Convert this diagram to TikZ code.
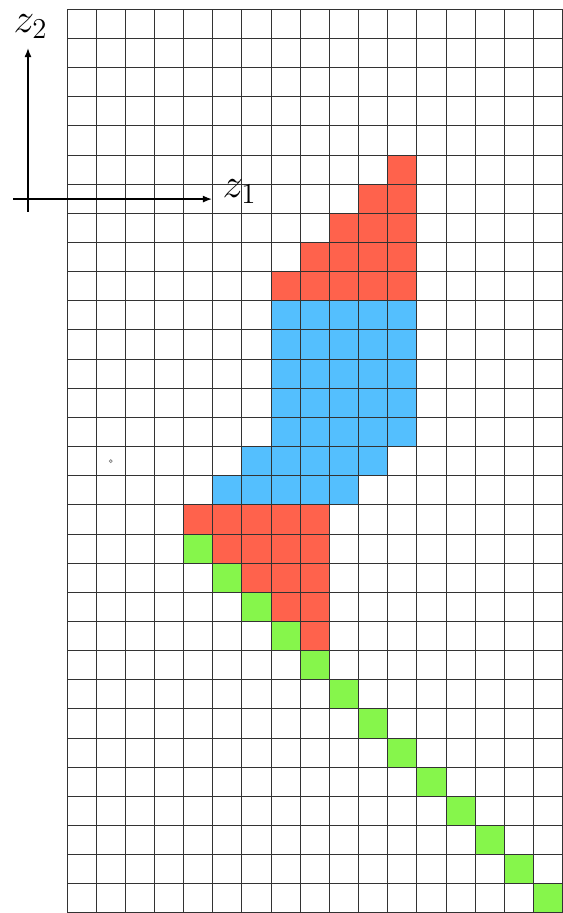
\documentclass[tikz,border=0pt]{standalone}
\usetikzlibrary{arrows.meta}
\definecolor{redcell}{RGB}{255,98,76}
\definecolor{bluecell}{RGB}{84,191,254}
\definecolor{greencell}{RGB}{134,246,75}
\begin{document}
\begin{tikzpicture}[x=14.575pt,y=14.575pt,
	gridline/.style={line width=0.5pt, black!80},
	axisline/.style={line width=0.65pt, -{Latex[length=4.5pt,width=3.5pt]}},
	axislabel/.style={anchor=base west, inner sep=0pt, font=\huge}]
	\useasboundingbox (-2.3,0) rectangle (17,31.32);
	
	% --- Red cells on top ---
	\foreach \r in {5,...,9} {
		\fill[redcell] ({16-\r},{30-\r}) rectangle (12,{31-\r}); % staircase row
	}
	
	% --- Blue block ---
	\fill[bluecell] (7,16) rectangle (12,21);
	\fill[bluecell] (6,15) rectangle (11,16);
	\fill[bluecell] (5,14) rectangle (10,15);
	
	% --- Red cells below ---
	\fill[redcell] (4,13) rectangle (9,14);
	\foreach \r in {18,...,21} {
		\fill[redcell] ({\r-13},{30-\r}) rectangle (9,{31-\r});
	}
	
	% --- Green diagonal ---
	\foreach \r in {18,...,30} {
		\fill[greencell] ({\r-14},{30-\r}) rectangle ++(1,1);
	}
	
	% --- Grid ---
	\foreach \x in {0,...,17} {
		\draw[gridline] (\x,0) -- (\x,31);
	}
	\foreach \y in {0,...,31} {
		\draw[gridline] (0,\y) -- (17,\y);
	}
	\draw[gray, line width=0.35pt] (1.5,15.5) circle (0.05);
	
	% --- Axes ---
	\coordinate (xs) at (-1.85,24.49);
	\coordinate (xe) at (4.97,24.49);
	\coordinate (ys) at (-1.34,24.05);
	\coordinate (ye) at (-1.34,29.67);
	\draw[axisline] (xs) -- (xe);
	\draw[axisline] (ys) -- (ye);
	\node[axislabel] (z1) at (5.32,24.56) {$z_1$};
	\node[axislabel] (z2) at (-1.85,30.2) {$z_2$};
\end{tikzpicture}
\end{document}
